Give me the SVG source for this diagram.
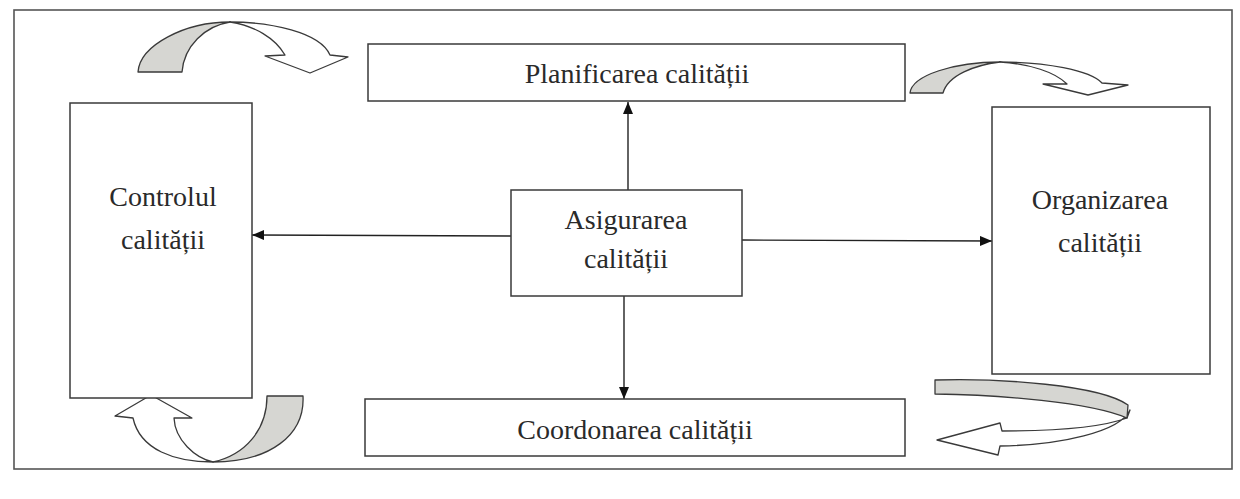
<svg xmlns="http://www.w3.org/2000/svg" width="1240" height="499" viewBox="0 0 1240 499">
<defs>
<marker id="ah" viewBox="0 0 12 10" refX="12" refY="5" markerWidth="12" markerHeight="10" markerUnits="userSpaceOnUse" orient="auto">
<path d="M0,0 L12,5 L0,10 Z" fill="#111"/>
</marker>
</defs>
<rect width="1240" height="499" fill="#fff"/>
<rect x="14" y="10" width="1218" height="459" fill="none" stroke="#555" stroke-width="1.6"/>

<g id="curved-arrows" stroke="#3a3a3a" stroke-width="1.3" stroke-linejoin="round">
<g id="arrow-top-left">
<path fill="#d6d6d2" d="M138,72 C140,45 185,22 230,22 C205,26 184,46 182,72 Z"/>
<path fill="#fff" d="M230,22 C270,22 320,32 330,55 L348,57 L310,73 L265,56 L285,55 C275,38 255,26 230,22 Z"/>
</g>
<g id="arrow-top-right">
<path fill="#d6d6d2" d="M910,93 C912,75 955,62 1000,62 C975,65 948,75 943,93 Z"/>
<path fill="#fff" d="M1000,62 C1045,62 1090,70 1102,83 L1128,85 L1088,95 L1043,84 L1067,84 C1055,72 1030,64 1000,62 Z"/>
</g>
<g id="arrow-bottom-left">
<path fill="#d6d6d2" d="M303,396 C305,435 270,462 213,462 C245,455 267,430 267,396 Z"/>
<path fill="#fff" d="M213,462 C175,462 140,450 133,418 L115,416 L151,395 L192,418 L174,418 C175,440 195,458 213,462 Z"/>
</g>
<g id="arrow-bottom-right">
<path fill="#fff" d="M1127,418 C1100,428 1050,431 1002,431 L1000,423 L937,440 L998,455 L1000,446 C1060,445 1120,432 1130,410 Z"/>
<path fill="#d6d6d2" d="M935,380 C1000,378 1100,385 1128,405 L1127,418 C1090,402 1000,395 935,394 Z"/>
</g>
</g>

<g id="connectors" stroke="#222" stroke-width="1.4" fill="none">
<line x1="628" y1="190" x2="628" y2="102" marker-end="url(#ah)"/>
<line x1="624" y1="296" x2="624" y2="399" marker-end="url(#ah)"/>
<line x1="511" y1="236" x2="252" y2="235" marker-end="url(#ah)"/>
<line x1="742" y1="240" x2="992" y2="241" marker-end="url(#ah)"/>
</g>

<g id="nodes" fill="#2a2a2a" text-anchor="middle">
<g id="planificarea">
<rect x="368" y="44" width="537" height="57" fill="#fff" stroke="#3a3a3a" stroke-width="1.5"/>
<text x="637" y="83" style="font-family:'Times New Roman';font-size:28px">Planificarea calității</text>
</g>
<g id="controlul">
<rect x="70" y="103" width="182" height="295" fill="#fff" stroke="#3a3a3a" stroke-width="1.5"/>
<text x="163" y="206" style="font-family:'Times New Roman';font-size:28px">Controlul</text>
<text x="163" y="249" style="font-family:'Times New Roman';font-size:28px">calității</text>
</g>
<g id="asigurarea">
<rect x="511" y="190" width="231" height="106" fill="#fff" stroke="#3a3a3a" stroke-width="1.5"/>
<text x="626" y="229" style="font-family:'Times New Roman';font-size:28px">Asigurarea</text>
<text x="626" y="268" style="font-family:'Times New Roman';font-size:28px">calității</text>
</g>
<g id="organizarea">
<rect x="992" y="107" width="218" height="267" fill="#fff" stroke="#3a3a3a" stroke-width="1.5"/>
<text x="1100" y="209" style="font-family:'Times New Roman';font-size:28px">Organizarea</text>
<text x="1100" y="252" style="font-family:'Times New Roman';font-size:28px">calității</text>
</g>
<g id="coordonarea">
<rect x="365" y="399" width="540" height="57" fill="#fff" stroke="#3a3a3a" stroke-width="1.5"/>
<text x="635" y="439" style="font-family:'Times New Roman';font-size:28px">Coordonarea calității</text>
</g>
</g>
</svg>
